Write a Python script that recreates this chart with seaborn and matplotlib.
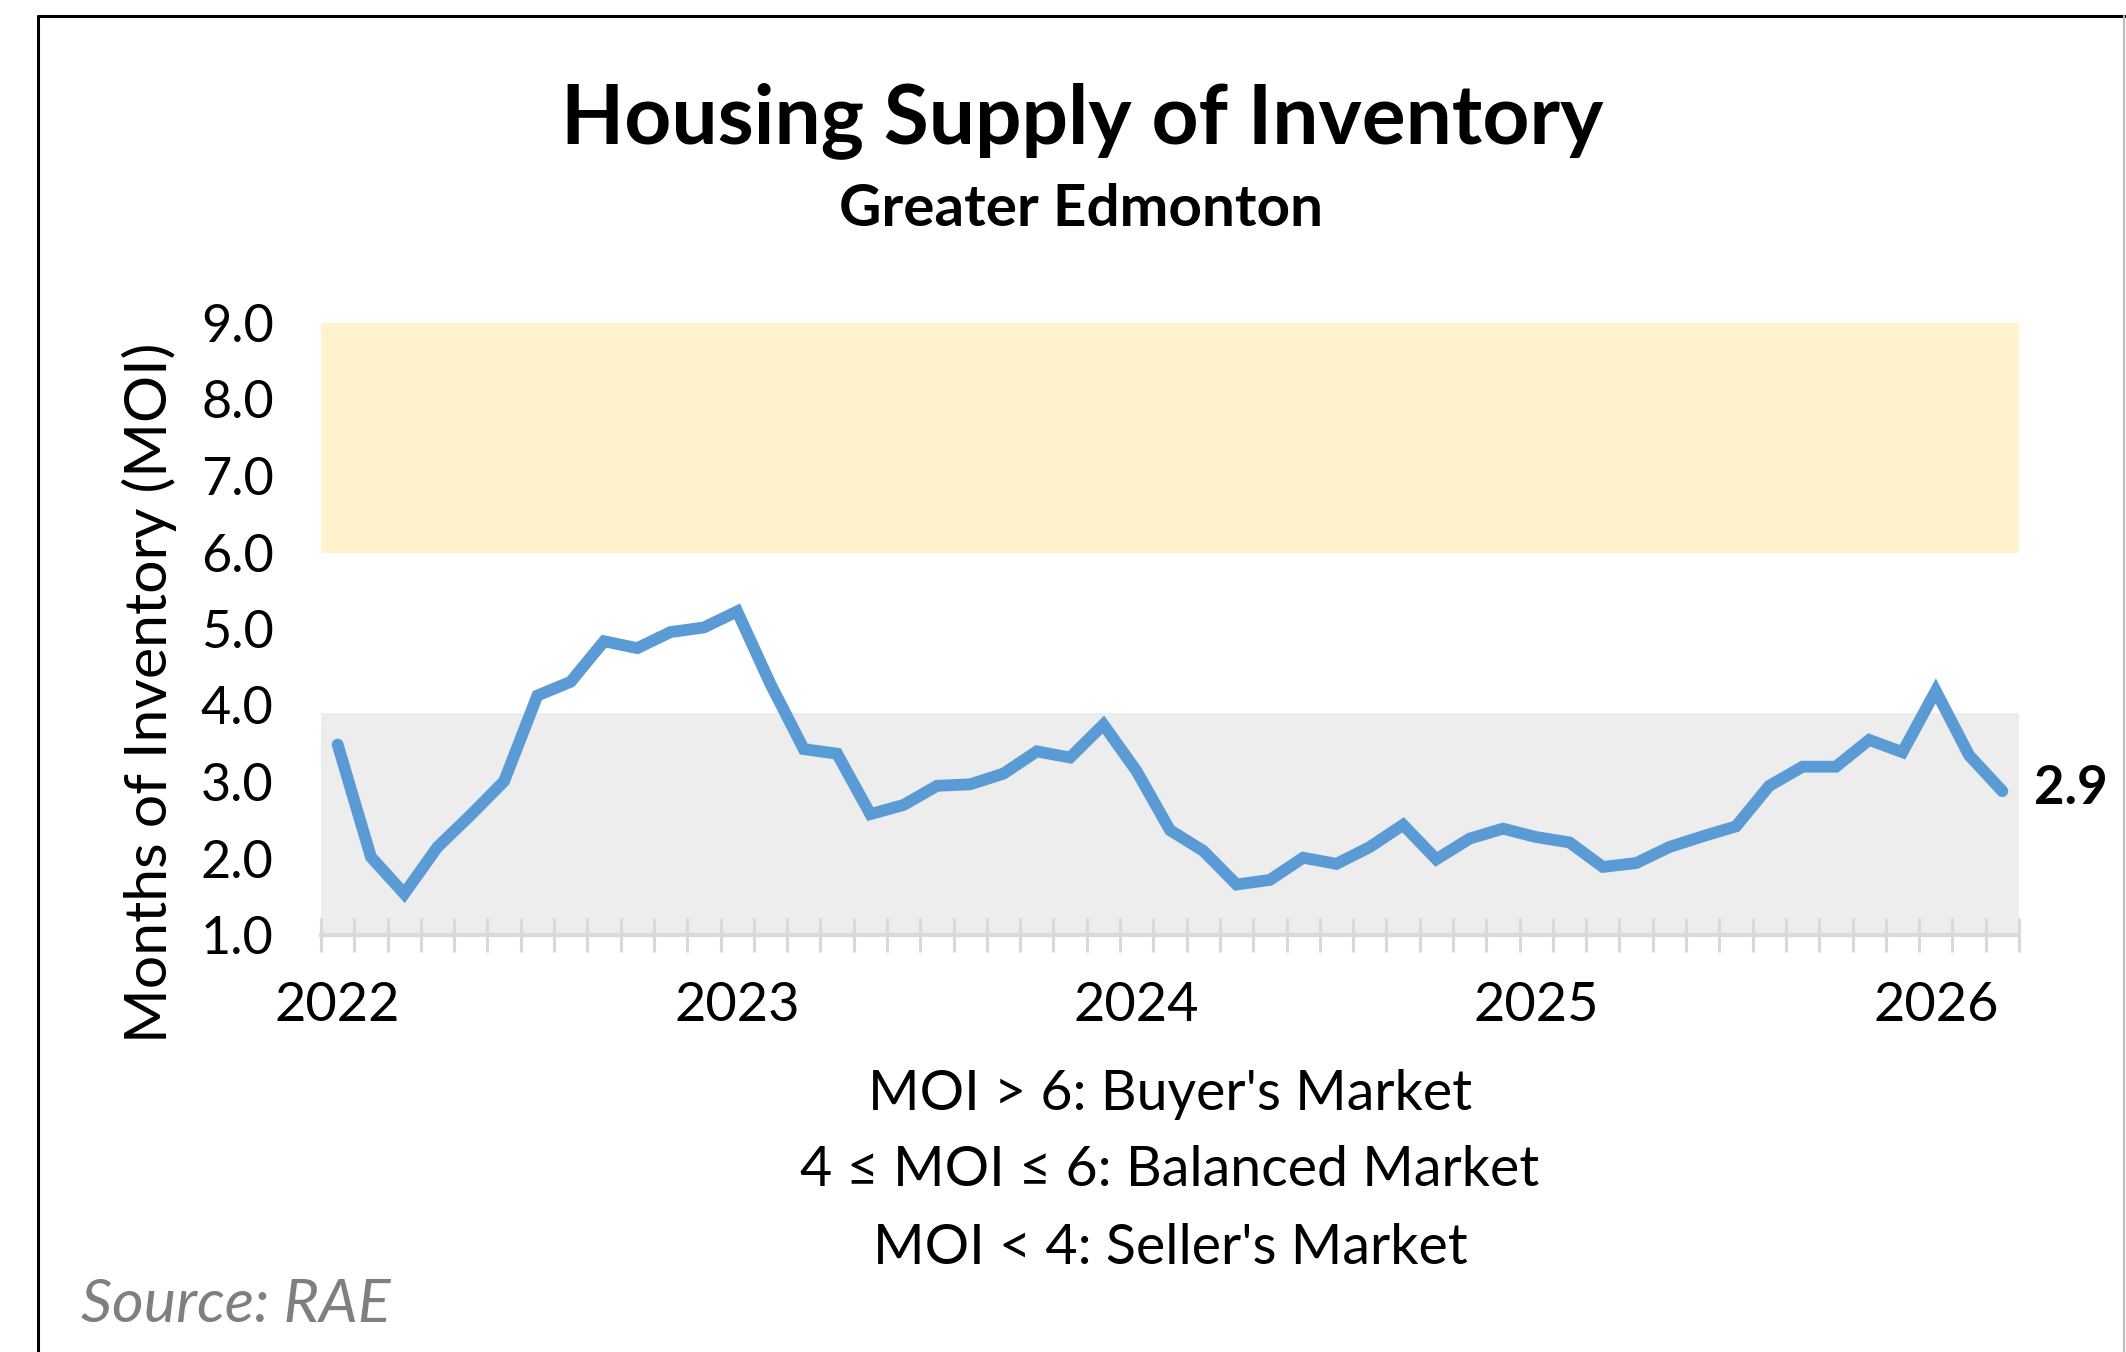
import matplotlib
matplotlib.use('Agg')
import matplotlib.pyplot as plt
import seaborn as sns
import pandas as pd
import numpy as np
from matplotlib.lines import Line2D

# ---------------- data ----------------
months = pd.date_range('2022-01-01', '2026-03-01', freq='MS')
moi = [3.49, 2.02, 1.54, 2.15, 2.57, 3.01, 4.13, 4.31, 4.84, 4.75, 4.96, 5.02,
       5.23, 4.28, 3.43, 3.37, 2.58, 2.70, 2.95, 2.97, 3.11, 3.40, 3.32, 3.75,
       3.14, 2.37, 2.10, 1.66, 1.72, 2.01, 1.93, 2.15, 2.44, 1.99, 2.26, 2.39,
       2.28, 2.21, 1.89, 1.94, 2.15, 2.29, 2.42, 2.95, 3.20, 3.20, 3.55, 3.39,
       4.19, 3.35, 2.88]
year_labels = ['2022', '2023', '2024', '2025', '2026']
year_positions = [0, 12, 24, 36, 48]
y_ticks = [1, 2, 3, 4, 5, 6, 7, 8, 9]
buyer_band = (6.0, 9.0)
seller_band = (1.0, 3.9)
last_label = '2.9'
notes = ["MOI > 6: Buyer's Market", "4 \u2264 MOI \u2264 6: Balanced Market", "MOI < 4: Seller's Market"]

df = pd.DataFrame({'idx': np.arange(len(moi)), 'month': months, 'moi': moi})

# ---------------- style ----------------
sns.set_theme(style='white')
plt.rcParams['font.family'] = ['Lato', 'DejaVu Sans']

W, H = 2126, 1352
fig = plt.figure(figsize=(W / 100, H / 100), dpi=100)
fig.patch.set_facecolor('white')

ax_left, ax_right, ax_top, ax_bot = 321, 2019, 323, 935
ax = fig.add_axes([ax_left / W, 1 - ax_bot / H, (ax_right - ax_left) / W, (ax_bot - ax_top) / H])

ax.axhspan(*buyer_band, color='#FFF2CC', lw=0, zorder=0)
ax.axhspan(*seller_band, color='#EDEDED', lw=0, zorder=0)

sns.lineplot(data=df, x='idx', y='moi', ax=ax, color='#5B9BD5', linewidth=8.5, zorder=3)
for ln in ax.lines:
    ln.set_solid_capstyle('round')
    ln.set_solid_joinstyle('miter')

ax.set_xlim(-0.5, len(moi) - 0.5)
ax.set_ylim(1, 9)
ax.set_xlabel('')
ax.set_ylabel('')

ax.set_yticks(y_ticks)
ax.set_yticklabels([f'{v:.1f}' for v in y_ticks])
ax.tick_params(axis='y', left=False, length=0, pad=34, labelsize=37.5, labelcolor='black')

ax.set_xticks(year_positions)
ax.set_xticklabels(year_labels)
ax.tick_params(axis='x', which='major', bottom=False, length=0, pad=33, labelsize=39, labelcolor='black')
ax.set_xticks(np.arange(-0.5, len(moi), 1), minor=True)
ax.tick_params(axis='x', which='minor', bottom=True, direction='inout', length=24.5, width=2.2,
               color='#D9D9D9')

for s in ['top', 'right', 'left']:
    ax.spines[s].set_visible(False)
ax.spines['bottom'].set_color('#D9D9D9')
ax.spines['bottom'].set_linewidth(3)
ax.grid(False)
ax.set_facecolor('none')

# last value label
ax.annotate(last_label, xy=(len(moi) - 1, moi[-1]), xytext=(2071, H - 789), textcoords='figure pixels',
            ha='center', va='center', fontsize=38, fontweight='bold', color='black')

# ---------------- texts ----------------
fig.text(1082 / W, 1 - 121 / H, 'Housing Supply of Inventory', ha='center', va='center',
         fontsize=59, fontweight='bold', color='black')
fig.text(1081 / W, 1 - 209 / H, 'Greater Edmonton', ha='center', va='center',
         fontsize=42, fontweight='bold', color='black')
fig.text(149 / W, 1 - 693 / H, 'Months of Inventory (MOI)', rotation=90, ha='center', va='center',
         fontsize=42.5, color='black')
for i, t in enumerate(notes):
    fig.text(1170 / W, 1 - (1094 + 77 * i) / H, t, ha='center', va='center', fontsize=40, color='black')
fig.text(81 / W, 1 - 1305 / H, 'Source: RAE', ha='left', va='center', fontsize=44,
         style='italic', color='#7F7F7F')

# frame border lines
fig.add_artist(Line2D([38 / W, 38 / W], [0, 1 - 16 / H], transform=fig.transFigure, color='black', lw=2.2))
fig.add_artist(Line2D([38 / W, 1], [1 - 16 / H, 1 - 16 / H], transform=fig.transFigure, color='black', lw=2.2))
fig.add_artist(Line2D([2124 / W, 2124 / W], [0, 1 - 16 / H], transform=fig.transFigure, color='#BBBBBB', lw=1.5))

fig.savefig('out.png', dpi=100)
